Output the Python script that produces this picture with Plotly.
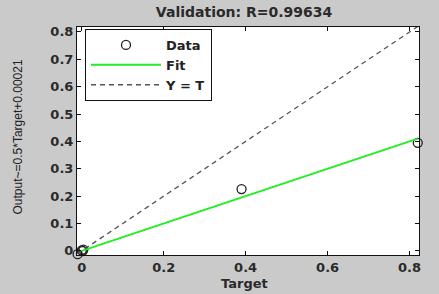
import plotly.graph_objects as go

# Data
targets = [-0.010, 0.000, 0.004, 0.002, 0.390, 0.820]
outputs = [-0.012, 0.002, 0.005, -0.001, 0.226, 0.395]
fit_slope = 0.5
fit_intercept = 0.00021
fit_x = [0.0, 0.82]
fit_y = [fit_slope * v + fit_intercept for v in fit_x]
ident = [-0.011, 0.82]

x_ticks = [0, 0.2, 0.4, 0.6, 0.8]
y_ticks = [0, 0.1, 0.2, 0.3, 0.4, 0.5, 0.6, 0.7, 0.8]

BOLD = dict(family="DejaVu Sans, Verdana, sans-serif", size=14, color="#2a2a2a", weight="bold")
TICK = dict(family="DejaVu Sans, Verdana, sans-serif", size=13, color="#2a2a2a", weight="bold")

fig = go.Figure()
fig.add_trace(go.Scatter(
    x=targets, y=outputs, mode="markers", name="Data",
    marker=dict(symbol="circle-open", size=9, color="#222222", line=dict(width=1.3)),
    cliponaxis=False,
))
fig.add_trace(go.Scatter(
    x=fit_x, y=fit_y, mode="lines", name="Fit",
    line=dict(color="#22ee22", width=2),
))
fig.add_trace(go.Scatter(
    x=ident, y=ident, mode="lines", name="Y = T",
    line=dict(color="#555555", width=1.3, dash="5px,4px"),
))

axis_common = dict(
    showline=True, linecolor="#111111", linewidth=1, mirror="allticks",
    ticks="inside", ticklen=4, tickcolor="#111111", showgrid=False, zeroline=False,
    tickfont=TICK, automargin=False,
)

fig.update_layout(
    width=439, height=294,
    margin=dict(l=77, r=20, t=27, b=39, autoexpand=False),
    paper_bgcolor="#cacaca", plot_bgcolor="#ffffff",
    title=dict(text="Validation: R=0.99634", xref="container", x=0.556, xanchor="center",
               yref="container", y=1 - 12 / 294, yanchor="middle", font=BOLD),
    xaxis=dict(range=[-0.0115, 0.823], tickvals=x_ticks, ticktext=[f"{v:g}" for v in x_ticks],
               **axis_common),
    yaxis=dict(range=[-0.015, 0.818], tickvals=y_ticks, ticktext=[f"{v:g}" for v in y_ticks],
               **axis_common),
    annotations=[
        dict(text="Target", xref="paper", yref="paper", x=(244 - 77) / 342, y=0,
             xanchor="center", yanchor="middle", yshift=-28, showarrow=False,
             font=dict(family="DejaVu Sans, Verdana, sans-serif", size=13, color="#2a2a2a",
                       weight="bold")),
        dict(text="Output~=0.5*Target+0.00021", xref="paper", yref="paper", x=0,
             y=(255 - 137.5) / 228, xanchor="center", yanchor="middle", xshift=-60,
             textangle=-90, showarrow=False,
             font=dict(family="Liberation Sans, Arial, sans-serif", size=12, color="#222222")),
    ],
    showlegend=True,
    legend=dict(x=(85 - 77) / 342, y=(255 - 29) / 228, xanchor="left", yanchor="top",
                bgcolor="#ffffff", bordercolor="#111111", borderwidth=1,
                font=dict(family="DejaVu Sans, Verdana, sans-serif", size=13, color="#222222",
                          weight="bold"),
                itemwidth=70, tracegroupgap=0),
)

fig.write_html("out.html",
               config={"displayModeBar": False},
               post_script="document.body.style.margin='0';document.body.style.padding='0';")
